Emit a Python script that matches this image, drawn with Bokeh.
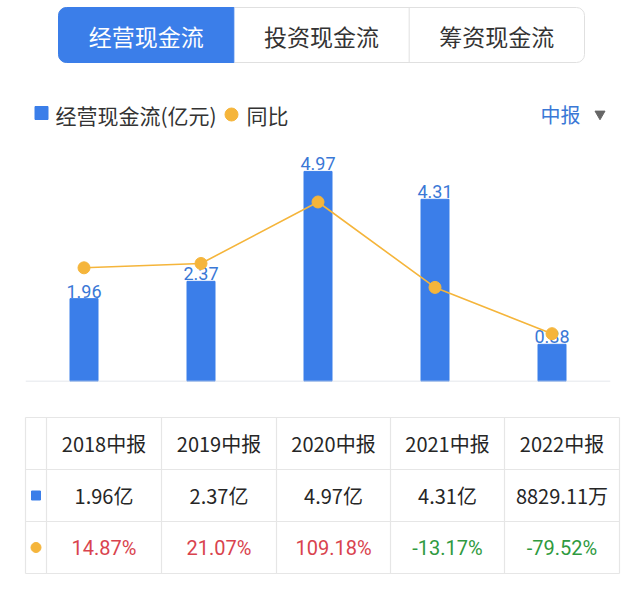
from bokeh.plotting import figure
from bokeh.models import Range1d, FactorRange, Span, ColumnDataSource
from bokeh.layouts import column
from bokeh.embed import file_html
from bokeh.resources import INLINE
from bokeh.core.properties import value

# ---------------- data ----------------
periods = ["2018中报", "2019中报", "2020中报", "2021中报", "2022中报"]
cash_flow = [1.96, 2.37, 4.97, 4.31, 0.88]            # 经营现金流 (亿元)
yoy = [14.87, 21.07, 109.18, -13.17, -79.52]          # 同比 (%)
cash_flow_text = ["1.96亿", "2.37亿", "4.97亿", "4.31亿", "8829.11万"]
tabs = ["经营现金流", "投资现金流", "筹资现金流"]
series_names = ["经营现金流(亿元)", "同比"]
period_type = "中报"

# ---------------- style ----------------
CJK = value("Noto Sans CJK SC")
NUM = value("Roboto")
BLUE = "#3b7ee9"
LABEL_BLUE = "#3a78d6"
ORANGE = "#f5b53b"
TXT = "#262626"
RED = "#d9434e"
GREEN = "#2f9a40"
GRIDC = "#e6e6e6"
W = 640


def base(h, x_range, y_range, **kw):
    p = figure(width=W, height=h, x_range=x_range, y_range=y_range,
               output_backend="svg", toolbar_location=None, tools="",
               x_axis_location=None, y_axis_location=None, title=None,
               min_border=0, frame_align=False, **kw)
    p.outline_line_color = None
    p.background_fill_color = "white"
    p.border_fill_color = "white"
    p.grid.grid_line_color = None
    return p


# ---------------- header (tabs + legend) ----------------
fh = base(140, Range1d(0, W), Range1d(140, 0))
tab_l, tab_r, tab_t, tab_b = 58, 584, 7, 62
tw = (tab_r - tab_l) / len(tabs)
fh.quad(left=[tab_l], right=[tab_r], top=[tab_t], bottom=[tab_b],
        fill_color="white", line_color="#e0e0e0", line_width=1, border_radius=8)
fh.quad(left=[tab_l], right=[tab_l + tw], top=[tab_t], bottom=[tab_b],
        fill_color=BLUE, line_color=BLUE, border_radius=(8, 0, 0, 8))
fh.segment(x0=[tab_l + 2 * tw], y0=[tab_t], x1=[tab_l + 2 * tw], y1=[tab_b],
           line_color="#e0e0e0", line_width=1)
tab_x = [tab_l + tw * (i + 0.5) for i in range(len(tabs))]
fh.text(x=tab_x, y=[35] * 3, text=tabs, text_align="center", text_baseline="middle",
        text_font=CJK, text_font_size="23px",
        text_color=["white", "#333333", "#333333"])

# legend
fh.scatter(x=[41], y=[112.5], marker="square", size=13, fill_color=BLUE, line_color=BLUE)
fh.text(x=[55], y=[114], text=[series_names[0]], text_baseline="middle",
        text_font=CJK, text_font_size="21px", text_color="#333333")
fh.scatter(x=[231], y=[114], marker="circle", size=13, fill_color=ORANGE, line_color=ORANGE)
fh.text(x=[246], y=[114], text=[series_names[1]], text_baseline="middle",
        text_font=CJK, text_font_size="21px", text_color="#333333")
fh.text(x=[540], y=[114], text=[period_type], text_baseline="middle",
        text_font=CJK, text_font_size="20px", text_color=LABEL_BLUE)
fh.scatter(x=[599.5], y=[113.5], marker="inverted_triangle", size=10,
           fill_color="#666666", line_color="#666666")

# ---------------- chart ----------------
fc = base(260, FactorRange(*periods), Range1d(0, 5.583),
          min_border_left=25, min_border_right=30,
          min_border_top=5, min_border_bottom=19)
fc.extra_y_ranges = {"yoy": Range1d(-148.0, 190.1)}

src = ColumnDataSource(dict(
    x=periods, cf=cash_flow, yoy=yoy,
    lab=[f"{v:.2f}" for v in cash_flow],
))
fc.vbar(x="x", top="cf", width=28 / 117, source=src,
        fill_color=BLUE, line_color=BLUE)
fc.text(x="x", y="cf", text="lab", source=src, y_offset=-1,
        text_align="center", text_baseline="bottom",
        text_font=NUM, text_font_size="18px", text_color=LABEL_BLUE)
fc.add_layout(Span(location=0, dimension="width", line_color="#dcdfe6", line_width=1.5))
fc.line(x="x", y="yoy", source=src, y_range_name="yoy",
        line_color=ORANGE, line_width=1.6)
fc.scatter(x="x", y="yoy", source=src, y_range_name="yoy", marker="circle",
           size=12, fill_color=ORANGE, line_color=ORANGE)

# ---------------- table ----------------
ft = base(190, Range1d(0, W), Range1d(590, 400))
col_edges = [25, 46, 161, 276, 390, 504, 619]
row_edges = [417, 469, 521, 573]
ft.segment(x0=[col_edges[0]] * len(row_edges), x1=[col_edges[-1]] * len(row_edges),
           y0=row_edges, y1=row_edges, line_color=GRIDC, line_width=1.2)
ft.segment(x0=col_edges, x1=col_edges,
           y0=[row_edges[0]] * len(col_edges), y1=[row_edges[-1]] * len(col_edges),
           line_color=GRIDC, line_width=1.2)

col_cx = [(col_edges[i] + col_edges[i + 1]) / 2 for i in range(1, len(col_edges) - 1)]
row_cy = [(row_edges[i] + row_edges[i + 1]) / 2 for i in range(len(row_edges) - 1)]
first_cx = (col_edges[0] + col_edges[1]) / 2

ft.text(x=col_cx, y=[row_cy[0]] * len(periods), text=periods,
        text_align="center", text_baseline="middle",
        text_font=CJK, text_font_size="20px", text_color=TXT)
ft.text(x=col_cx, y=[row_cy[1]] * len(periods), text=cash_flow_text,
        text_align="center", text_baseline="middle",
        text_font=CJK, text_font_size="20px", text_color=TXT)
ft.text(x=col_cx, y=[row_cy[2]] * len(periods), text=[f"{v:.2f}%" for v in yoy],
        text_align="center", text_baseline="middle",
        text_font=NUM, text_font_size="20px",
        text_color=[RED if v > 0 else GREEN for v in yoy])
ft.scatter(x=[first_cx], y=[row_cy[1]], marker="square", size=9,
           fill_color=BLUE, line_color=BLUE)
ft.scatter(x=[first_cx], y=[row_cy[2]], marker="circle", size=10,
           fill_color=ORANGE, line_color=ORANGE)

layout = column(fh, fc, ft, spacing=0)
open("out.html", "w").write(file_html(layout, INLINE))
